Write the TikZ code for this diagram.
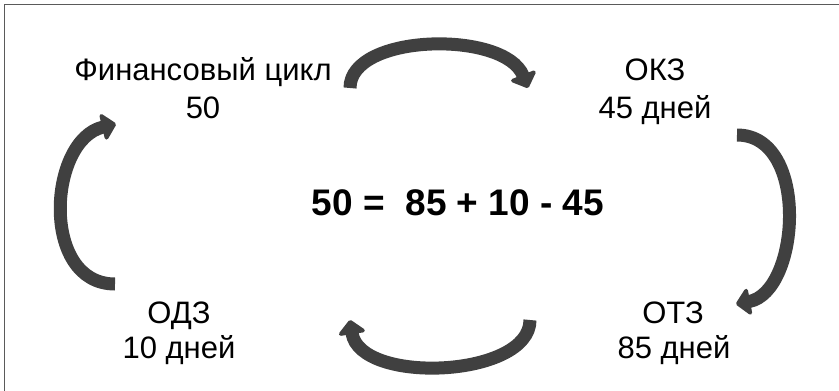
\documentclass[tikz,border=0pt]{standalone}
\usepackage{fontspec}
\setmainfont{Liberation Sans}
\usetikzlibrary{arrows.meta}
\definecolor{arrowgray}{HTML}{404040}
\definecolor{framegray}{HTML}{5A5A5A}
\tikzset{
  lbl/.style={anchor=base, inner sep=0pt, font=\fontsize{31}{36}\selectfont},
  eqn/.style={anchor=base, inner sep=0pt, font=\fontsize{37}{44}\selectfont\bfseries},
  cyclearrow/.style={draw=arrowgray, line width=13pt, line cap=butt,
    -{Triangle[length=15pt, width=31pt, round]}},
}
\begin{document}
\begin{tikzpicture}[x=1pt, y=-1pt]
\useasboundingbox (0,0) rectangle (839,391);
% open frame: only the top and left edges fall inside the page
\draw[framegray, line width=1.6pt] (4.5,400) -- (4.5,4.5) -- (850,4.5);

% labels
\node[lbl] (fin)  at (203,80.5) {Финансовый цикл};
\node[lbl] (finv) at (203,118)  {50};
\node[lbl] (okz)  at (655,80.5) {ОКЗ};
\node[lbl] (okzv) at (655,118)  {45 дней};
\node[lbl] (otz)  at (673,323)  {ОТЗ};
\node[lbl] (otzv) at (674,358)  {85 дней};
\node[lbl] (odz)  at (179,323)  {ОДЗ};
\node[lbl] (odzv) at (179,358)  {10 дней};
\node[eqn] (eq)   at (458,215)  {50 =\ \ 85 + 10 - 45};

% arrow end points
\coordinate (t1) at (350,88);   \coordinate (h1) at (528,88);
\coordinate (t2) at (737,135);  \coordinate (h2) at (736,304);
\coordinate (t3) at (530,320);  \coordinate (h3) at (350,320);
\coordinate (t4) at (115,284);  \coordinate (h4) at (116,124);

% curved arrows around the cycle
\draw[cyclearrow] (t1) .. controls (350,33) and (505,30) .. (h1);
\draw[cyclearrow] (t2) .. controls (810,135) and (800,292) .. (h2);
\draw[cyclearrow] (t3) .. controls (530,378) and (360,385) .. (h3);
\draw[cyclearrow] (t4) .. controls (40,284) and (48,140) .. (h4);
\end{tikzpicture}
\end{document}
